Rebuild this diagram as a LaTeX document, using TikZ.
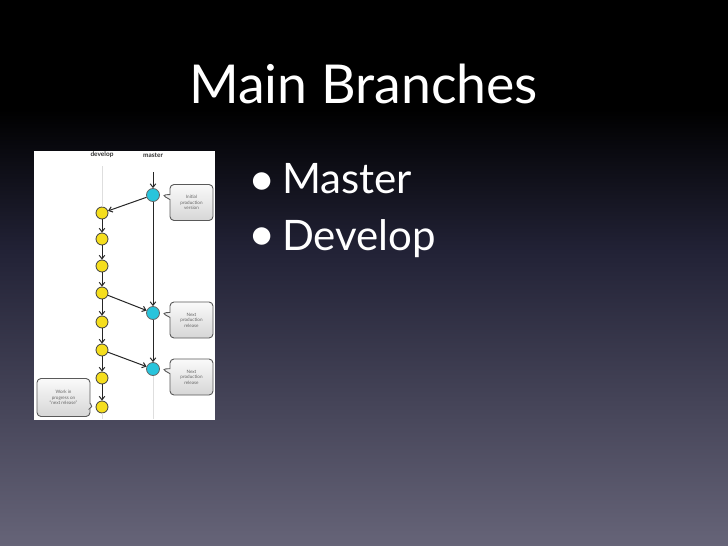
\documentclass[tikz,border=0pt]{standalone}
\usepackage{fontspec}
\setmainfont{Lato}
\usetikzlibrary{arrows.meta,shapes.callouts}
\definecolor{bgbot}{RGB}{102,100,120}
\definecolor{bgmid}{RGB}{34,34,54}
\definecolor{yelfill}{RGB}{245,222,30}
\definecolor{cyafill}{RGB}{40,196,220}
\pgfdeclareverticalshading{slidebg}{100bp}{color(0bp)=(bgbot); color(25bp)=(bgbot); color(52bp)=(bgmid); color(65bp)=(black); color(100bp)=(black)}
\tikzset{
  yel/.style={circle, draw=black!75, fill=yelfill, minimum size=12pt, inner sep=0pt, line width=0.8pt},
  cya/.style={circle, draw=black!60, fill=cyafill, minimum size=13pt, inner sep=0pt, line width=0.8pt},
  arr/.style={-{Straight Barb[length=3.5pt,width=5.5pt]}, line width=1pt, draw=black!85},
  faint/.style={draw=black!13, line width=0.9pt},
  bubble/.style={rectangle callout, rounded corners=4pt, draw=black!65, line width=0.9pt,
    top color=gray!4, bottom color=gray!32, font=\fontsize{4.6}{5.6}\selectfont, text=black!60,
    align=center, minimum width=43pt, minimum height=36pt, inner sep=1pt, callout pointer width=5pt},
  branchlbl/.style={font=\bfseries\fontsize{6.5}{7}\selectfont, text=black!80, inner sep=0pt},
  slidetext/.style={text=white, inner sep=0pt, anchor=base west}
}
\begin{document}
\begin{tikzpicture}[x=1pt,y=-1pt]
\useasboundingbox (0,0) rectangle (728,546);
\shade[shading=slidebg] (0,0) rectangle (728,546);
% title and bullets
\node[slidetext, font=\fontsize{53.6}{60}\selectfont] (title) at (189,103) {Main Branches};
\node[slidetext, font=\fontsize{47}{50}\selectfont] (b1) at (248.5,195.5) {•};
\node[slidetext, font=\fontsize{42}{50}\selectfont] (t1) at (282,193) {Master};
\node[slidetext, font=\fontsize{47}{50}\selectfont] (b2) at (248.5,250.5) {•};
\node[slidetext, font=\fontsize{42}{50}\selectfont] (t2) at (282,250) {Develop};
% diagram panel
\fill[white] (34,151) rectangle (215,420);
\node[branchlbl] (ldev) at (102,155) {develop};
\node[branchlbl] (lmas) at (153,155) {master};
\coordinate (devtop) at (102,166);
\coordinate (devbot) at (102,419);
\coordinate (mtop) at (153,172);
\coordinate (mbot) at (153,419);
\node[yel] (y1) at (102,213) {};
\node[yel] (y2) at (102,239) {};
\node[yel] (y3) at (102,266) {};
\node[yel] (y4) at (102,293) {};
\node[yel] (y5) at (102,322) {};
\node[yel] (y6) at (102,350) {};
\node[yel] (y7) at (102,378) {};
\node[yel] (y8) at (102,407) {};
\node[cya] (c1) at (153,195) {};
\node[cya] (c2) at (153,313) {};
\node[cya] (c3) at (153,369) {};
\draw[faint] (devtop) -- (y1);
\draw[faint] (y8) -- (devbot);
\draw[faint] (c3) -- (mbot);
\draw[arr] (mtop) -- (c1);
\draw[arr] (c1) -- (c2);
\draw[arr] (c2) -- (c3);
\draw[arr] (c1) -- (y1);
\draw[arr] (y4) -- (c2);
\draw[arr] (y6) -- (c3);
\foreach \a/\b in {y1/y2,y2/y3,y3/y4,y4/y5,y5/y6,y6/y7,y7/y8}
  \draw[arr] (\a) -- (\b);
\node[bubble, callout absolute pointer={([xshift=2pt]c1.east)}] (n1) at (191.5,202.5) {Initial\\production\\version};
\node[bubble, callout absolute pointer={([xshift=2pt]c2.east)}] (n2) at (191.5,320) {Next\\production\\release};
\node[bubble, callout absolute pointer={([xshift=2pt]c3.east)}] (n3) at (191.5,377) {Next\\production\\release};
\node[bubble, minimum width=53pt, minimum height=38pt, callout absolute pointer={([xshift=-2pt]y8.west)}] (n4) at (63.5,397.5) {Work in\\progress on\\``next release''};
\end{tikzpicture}
\end{document}
